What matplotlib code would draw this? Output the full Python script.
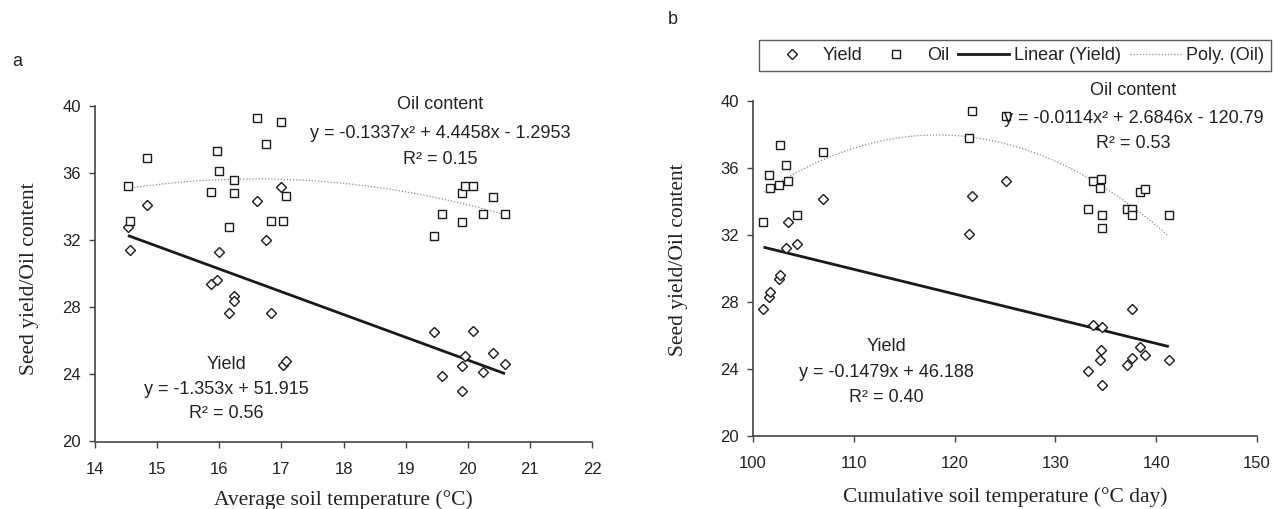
#necessary import statements
import numpy as np
import matplotlib.pyplot as plt
from matplotlib.lines import Line2D

plt.rcParams['font.family'] = ['Liberation Sans', 'DejaVu Sans']

#panel a : average soil temperature
temp_avg = [14.53, 14.57, 14.84, 15.86, 15.96, 16.00, 16.24, 16.24, 16.15, 16.61, 16.75, 16.84,
            16.99, 17.03, 17.08, 19.46, 19.58, 19.91, 19.91, 19.96, 20.09, 20.25, 20.40, 20.60]
oil_a = [35.22, 33.17, 36.90, 34.90, 37.33, 36.12, 35.58, 34.80, 32.80, 39.28, 37.73, 33.17,
         39.02, 33.17, 34.65, 32.28, 33.55, 34.80, 33.10, 35.22, 35.22, 33.55, 34.55, 33.55]
yield_a = [32.78, 31.42, 34.10, 29.40, 29.60, 31.27, 28.65, 28.36, 27.66, 34.35, 31.99, 27.66,
           35.20, 24.56, 24.80, 26.55, 23.92, 24.50, 23.00, 25.10, 26.60, 24.12, 25.30, 24.60]

#panel b : cumulative soil temperature
temp_cum = [101.04, 101.60, 101.73, 102.60, 102.70, 103.30, 103.45, 104.40, 106.90, 121.40, 121.77, 125.06,
            133.25, 133.70, 134.40, 134.50, 134.66, 134.66, 137.10, 137.60, 137.60, 138.35, 138.84, 141.25]
oil_b = [32.77, 35.58, 34.82, 34.98, 37.35, 36.18, 35.22, 33.20, 36.93, 37.77, 39.38, 39.12,
         33.57, 35.22, 34.82, 35.32, 33.20, 32.39, 33.57, 33.57, 33.20, 34.58, 34.74, 33.20]
yield_b = [27.59, 28.31, 28.57, 29.38, 29.60, 31.20, 32.79, 31.45, 34.12, 32.03, 34.32, 35.22,
           23.88, 26.61, 24.52, 25.14, 23.00, 26.47, 24.22, 24.66, 27.59, 25.30, 24.82, 24.54]

oil_eq = ["y = -0.1337x\u00b2 + 4.4458x - 1.2953", "y = -0.0114x\u00b2 + 2.6846x - 120.79"]
oil_r2 = ["R\u00b2 = 0.15", "R\u00b2 = 0.53"]
yield_eq = ["y = -1.353x + 51.915", "y = -0.1479x + 46.188"]
yield_r2 = ["R\u00b2 = 0.56", "R\u00b2 = 0.40"]

txt = '#222222'
fs = 13
serif = 'Liberation Serif'

fig = plt.figure(figsize=(12.74, 5.09), dpi=100)
ax_a = fig.add_axes([95 / 1274, 1 - 441.5 / 509, 497 / 1274, 335.5 / 509])
ax_b = fig.add_axes([753 / 1274, 1 - 435.5 / 509, 504 / 1274, 334.5 / 509])

yield_style = dict(ls='none', marker='D', ms=4.8, mfc='white', mec='#1a1a1a', mew=1.0)
oil_style = dict(ls='none', marker='s', ms=5.8, mfc='white', mec='#1a1a1a', mew=1.0)
lin_style = dict(color='#1a1a1a', lw=2.0)
poly_style = dict(color='#8a8a8a', lw=0.9, ls=(0, (1, 1.5)))


#draw one panel: scatter, fitted lines and the equations
def draw_panel(ax, x, oil, yld, i, xlim, xticks, xlabel, pos):
    x = np.array(x)
    xs = np.linspace(x.min(), x.max(), 200)
    pl = np.polyfit(x, yld, 1)
    pq = np.polyfit(x, oil, 2)
    ax.plot(xs, np.polyval(pq, xs), **poly_style)
    ax.plot(xs, np.polyval(pl, xs), solid_capstyle='butt', **lin_style)
    ax.plot(x, yld, **yield_style)
    ax.plot(x, oil, **oil_style)

    ax.set_xlim(*xlim)
    ax.set_ylim(20, 40)
    ax.set_xticks(xticks)
    ax.set_yticks([20, 24, 28, 32, 36, 40])
    for s in ['top', 'right']:
        ax.spines[s].set_visible(False)
    for s in ['left', 'bottom']:
        ax.spines[s].set_color('#444444')
        ax.spines[s].set_linewidth(1.2)
    ax.tick_params(axis='both', direction='out', length=4, width=1.0, color='#444444',
                   labelsize=12, labelcolor=txt)
    ax.tick_params(axis='x', pad=11)
    ax.tick_params(axis='y', pad=6)

    ax.set_xlabel(xlabel, family=serif, fontsize=15.5, color=txt, va='baseline')
    ax.set_ylabel('Seed yield/Oil content', family=serif, fontsize=15.5, color=txt)
    ax.xaxis.set_label_coords(0.5, pos[0])
    ax.yaxis.set_label_coords(pos[1], pos[2])

    #equations
    ox, oy, yx, yy = pos[3:]
    ax.text(ox, oy[0], 'Oil content', ha='center', va='center', fontsize=fs, color=txt)
    ax.text(ox, oy[1], oil_eq[i], ha='center', va='center', fontsize=fs, color=txt)
    ax.text(ox, oy[2], oil_r2[i], ha='center', va='center', fontsize=fs, color=txt)
    ax.text(yx, yy[0], 'Yield', ha='center', va='center', fontsize=fs, color=txt)
    ax.text(yx, yy[1], yield_eq[i], ha='center', va='center', fontsize=fs, color=txt)
    ax.text(yx, yy[2], yield_r2[i], ha='center', va='center', fontsize=fs, color=txt)


draw_panel(ax_a, temp_avg, oil_a, yield_a, 0, (14, 22), range(14, 23),
           'Average soil temperature (\u00b0C)',
           (-0.188, -0.113, 0.484, 19.56, (40.06, 38.37, 36.84), 16.11, (24.58, 23.09, 21.65)))
draw_panel(ax_b, temp_cum, oil_b, yield_b, 1, (100, 150), range(100, 151, 10),
           'Cumulative soil temperature (\u00b0C day)',
           (-0.200, -0.129, 0.525, 137.75, (40.6, 38.96, 37.43), 113.2, (25.32, 23.78, 22.27)))

for a in (ax_a, ax_b):
    a.patch.set_visible(False)
    for ln in a.lines:
        ln.set_clip_on(False)

fig.text(12 / 1274, 1 - 62 / 509, 'a', fontsize=13, color=txt, va='center')
fig.text(668 / 1274, 1 - 20 / 509, 'b', fontsize=13, color=txt, va='center')

#legend
handles = [Line2D([], [], **yield_style), Line2D([], [], **oil_style),
           Line2D([], [], **lin_style), Line2D([], [], **poly_style)]
leg = fig.legend(handles, ['Yield', 'Oil', 'Linear (Yield)', 'Poly. (Oil)'], ncol=4,
                 loc='upper left', bbox_to_anchor=(759 / 1274, 1 - 40 / 509), borderaxespad=0,
                 fontsize=fs, handlelength=2.8, handletextpad=0.3, columnspacing=0.5,
                 borderpad=0.4, numpoints=1, fancybox=False, edgecolor='#333333')
leg.get_frame().set_linewidth(1.0)
for t in leg.get_texts():
    t.set_color(txt)

plt.savefig('out.png', dpi=100)
